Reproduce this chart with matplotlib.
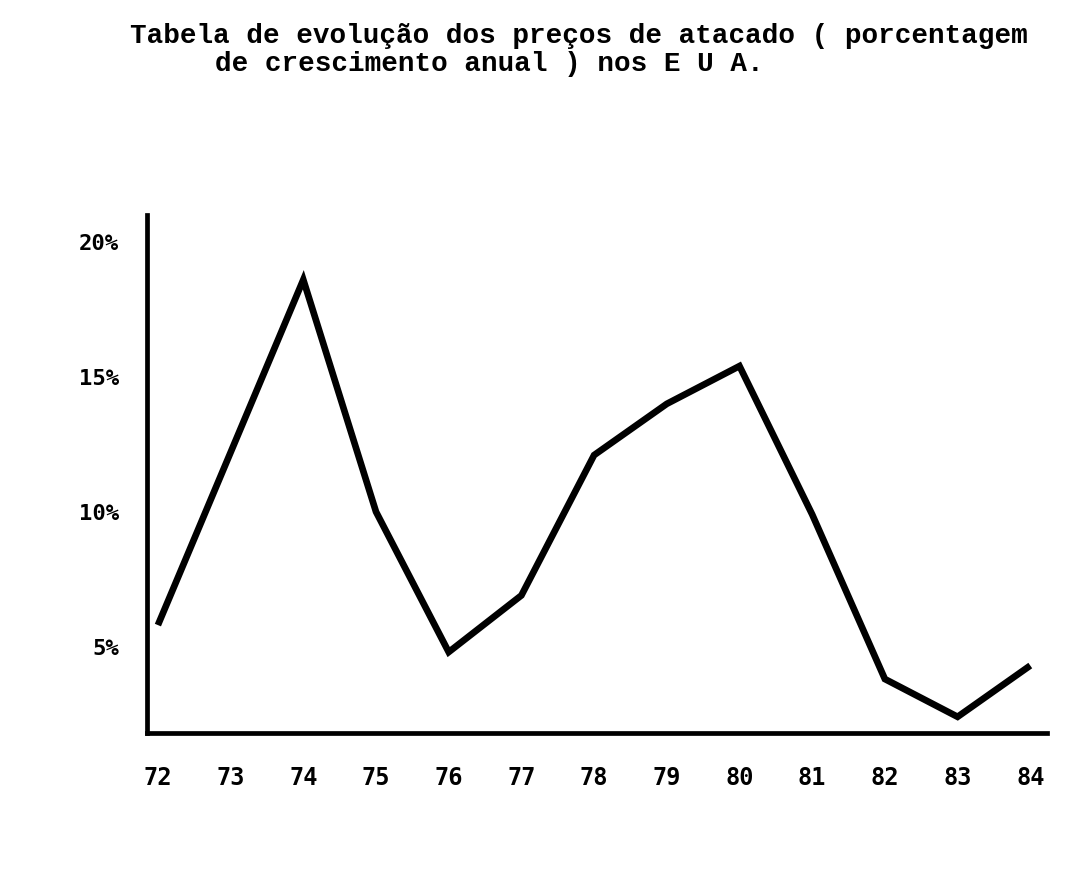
import matplotlib.pyplot as plt

# valores (crescimento anual dos preços de atacado, %)
years = [72, 74, 75, 76, 77, 78, 79, 80, 81, 82, 83, 84]
growth = [5.8, 18.6, 10.0, 4.8, 6.9, 12.1, 14.0, 15.4, 9.9, 3.8, 2.4, 4.3]
year_labels = [str(y) for y in range(72, 85)]
pct_ticks = [5, 10, 15, 20]
pct_labels = ["5%", "10%", "15%", "20%"]

title1 = "Tabela de evolução dos preços de atacado ( porcentagem"
title2 = "de crescimento anual ) nos E U A."

W, H = 1078, 869
fig = plt.figure(figsize=(W / 100, H / 100), dpi=100)
ax = fig.add_axes([147 / W, 136 / H, 900 / W, 518 / H])

ax.plot(years, growth, color="black", lw=4.8, solid_joinstyle="miter",
        solid_capstyle="butt", clip_on=False)

ax.set_xlim(71.85, 84.23)
ax.set_ylim(1.8, 21.0)

for s in ["top", "right"]:
    ax.spines[s].set_visible(False)
for s in ["left", "bottom"]:
    ax.spines[s].set_linewidth(3.4)
    ax.spines[s].set_color("black")

ax.set_xticks(range(72, 85))
ax.set_xticklabels(year_labels, family="DejaVu Sans Mono", fontweight="bold",
                   fontsize=17)
ax.set_yticks(pct_ticks)
ax.set_yticklabels(pct_labels, family="DejaVu Sans Mono", fontweight="bold",
                   fontsize=16)
ax.tick_params(axis="x", length=0, pad=24)
ax.tick_params(axis="y", length=0, pad=20)

fig.text(130 / W, 1 - 36 / H, title1, family="Liberation Mono",
         fontsize=19.9, fontweight="semibold", va="center", ha="left")
fig.text(215 / W, 1 - 64 / H, title2, family="Liberation Mono",
         fontsize=19.9, fontweight="semibold", va="center", ha="left")

fig.savefig("out.png", dpi=100)
